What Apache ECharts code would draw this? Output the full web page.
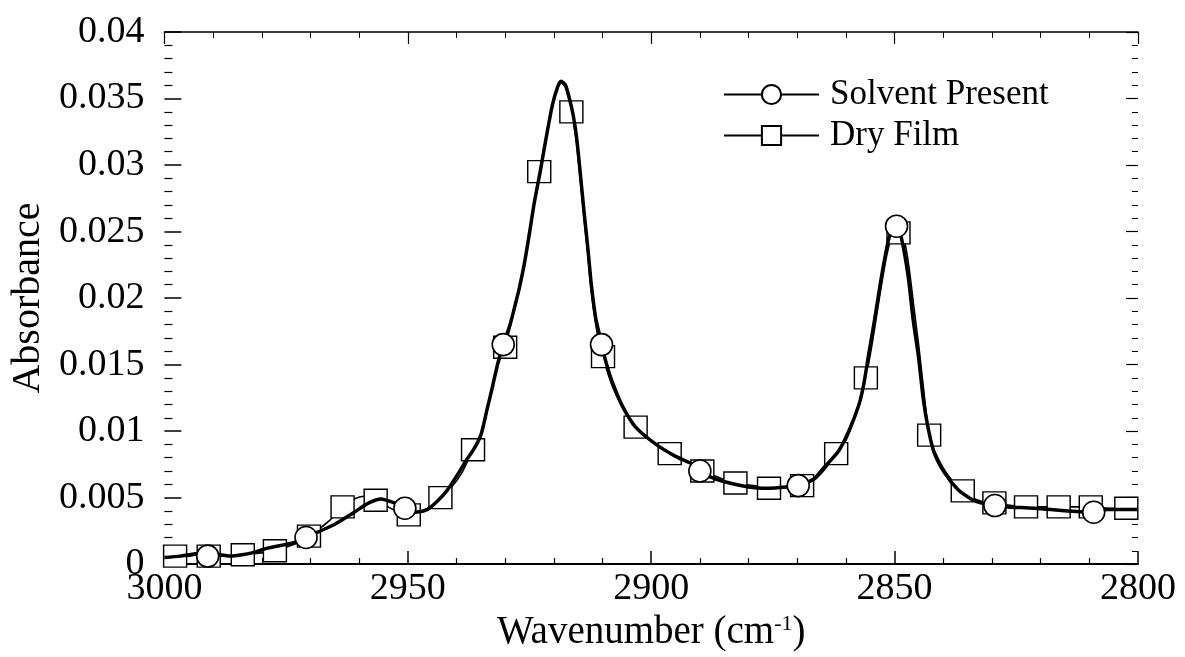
<!DOCTYPE html>
<html>
<head>
<meta charset="utf-8">
<script src="https://cdn.jsdelivr.net/npm/echarts@6/dist/echarts.min.js"></script>
<style>
html,body{margin:0;padding:0;background:#fff;}
#chart{width:1185px;height:657px;}
</style>
</head>
<body>
<div id="chart"></div>
<script>
// ---- Data ----
const seriesNames = ['Solvent Present', 'Dry Film'];

// Solvent Present: line trace (wavenumber, absorbance)
const solventX = [3000, 2996.7, 2995, 2993, 2988.5, 2986.5, 2984, 2981.4, 2978.8, 2974.7, 2972.5,
  2968.5, 2965, 2961, 2958, 2955.5, 2953.5, 2952, 2948.5, 2946, 2944, 2942, 2940, 2938, 2936.5,
  2935, 2933.8, 2932.5, 2931.5, 2929, 2928, 2927, 2926, 2925, 2924, 2922.8, 2921.6, 2920.3,
  2919.2, 2918.5, 2917.6, 2916.8, 2916, 2915.3, 2914.6, 2913.8, 2913, 2912.3, 2911.4, 2910.6,
  2909.3, 2908, 2905.8, 2903.2, 2899, 2895, 2891.5, 2886.8, 2880, 2875.8, 2872, 2866.6, 2864.4,
  2861.5, 2859.4, 2857.4, 2856.4, 2855.4, 2854.1, 2852.7, 2851.3, 2850.4, 2848.6, 2847.2,
  2846.2, 2845.1, 2844.1, 2843.1, 2841.9, 2839.8, 2837, 2834.3, 2832.3, 2826.8, 2821.4,
  2814.5, 2806.3, 2800];
const solventY = [0.0005, 0.0006, 0.0007, 0.0008, 0.0007, 0.0006, 0.0007, 0.0009, 0.0012, 0.0015, 0.0017,
  0.0024, 0.0030, 0.0039, 0.0046, 0.0049, 0.0047, 0.0045, 0.0039, 0.0041, 0.0047, 0.0055, 0.0066, 0.0078, 0.0086,
  0.0097, 0.0115, 0.0135, 0.0151, 0.0180, 0.0194, 0.0209, 0.0227, 0.0249, 0.0272, 0.0295, 0.0320, 0.0345,
  0.0359, 0.0363, 0.0360, 0.0350, 0.0337, 0.0320, 0.0295, 0.0265, 0.0237, 0.0210, 0.0185, 0.0172,
  0.0152, 0.0137, 0.0118, 0.0103, 0.0090, 0.0081, 0.0075, 0.0064, 0.0058, 0.0057, 0.0058, 0.0064, 0.0073,
  0.0085, 0.0100, 0.0119, 0.0134, 0.0156, 0.0184, 0.0216, 0.0243, 0.0253, 0.0245, 0.0216,
  0.0184, 0.0156, 0.0124, 0.0102, 0.0084, 0.0069, 0.0056, 0.0049, 0.0046, 0.0043, 0.0042,
  0.0040, 0.0041, 0.0041];
// Solvent Present: circle markers
const solventMarkX = [2991.1, 2970.9, 2950.6, 2930.4, 2910.2, 2890.0, 2869.8, 2849.6, 2829.4, 2809.1];
const solventMarkY = [0.0006, 0.0020, 0.0042, 0.0165, 0.0165, 0.0070, 0.0059, 0.0254, 0.0044, 0.0039];

// Dry Film: line trace
const dryX = [3000, 2995, 2993, 2988, 2986, 2981, 2979, 2974, 2972, 2968, 2966, 2961, 2959, 2954.5,
  2952.5, 2947.5, 2945.5, 2941, 2939, 2935, 2933.8, 2932.5, 2931.5, 2929, 2928, 2927, 2926, 2925,
  2924, 2921.6, 2920.3, 2919.2, 2918.5, 2917.6, 2916.8, 2916, 2915.3, 2914.6, 2913.8, 2913, 2912.3,
  2911.4, 2910.6, 2909.3, 2908, 2905.8, 2899, 2893, 2886, 2879, 2872, 2866.6, 2864.4, 2860, 2858,
  2857, 2854.5, 2853, 2851.5, 2850.3, 2848, 2847, 2846, 2845, 2844, 2841.9, 2839.8, 2838, 2834,
  2832, 2826, 2820, 2813, 2806, 2800];
const dryY = [0.0007, 0.0006, 0.0007, 0.0006, 0.0006, 0.0008, 0.0009, 0.0014, 0.0017, 0.0027, 0.0033, 0.0049, 0.0051, 0.0044,
  0.0040, 0.0039, 0.0043, 0.0058, 0.0068, 0.0097, 0.0115, 0.0135, 0.0150, 0.0178, 0.0193, 0.0208, 0.0226, 0.0248,
  0.0271, 0.0320, 0.0345, 0.0358, 0.0362, 0.0358, 0.0348, 0.0333, 0.0315, 0.0290, 0.0260, 0.0232, 0.0205,
  0.0180, 0.0165, 0.0148, 0.0134, 0.0117, 0.0090, 0.0078, 0.0065, 0.0059, 0.0057, 0.0063, 0.0071, 0.0093, 0.0112,
  0.0124, 0.0168, 0.0203, 0.0234, 0.0248, 0.0243, 0.0222, 0.0192, 0.0163, 0.0130, 0.0086, 0.0071, 0.0062, 0.0050,
  0.0047, 0.0044, 0.0043, 0.0043, 0.0042, 0.0042];
// Dry Film: square markers
const dryMarkX = [2997.8, 2990.9, 2983.9, 2977.3, 2970.3, 2963.4, 2956.6, 2949.8, 2943.3, 2936.6,
  2930.0, 2923.0, 2916.4, 2909.9, 2903.2, 2896.2, 2889.5, 2882.7, 2875.8, 2869.0,
  2862.0, 2855.9, 2849.2, 2842.9, 2836.0, 2829.5, 2823.0, 2816.3, 2809.7, 2802.4];
const dryMarkY = [0.0006, 0.0006, 0.0007, 0.0010, 0.0021, 0.0043, 0.0048, 0.0037, 0.0050, 0.0086,
  0.0163, 0.0295, 0.0340, 0.0156, 0.0103, 0.0083, 0.0070, 0.0061, 0.0057, 0.0059,
  0.0083, 0.0140, 0.0249, 0.0097, 0.0055, 0.0046, 0.0043, 0.0043, 0.0043, 0.0042];

// Axis ticks
const xMin = 2800, xMax = 3000, xStep = 50;
const xTickLabels = ['2800', '2850', '2900', '2950', '3000'];
const yMin = 0, yMax = 0.04, yStep = 0.005;
const yTickLabels = ['0', '0.005', '0.01', '0.015', '0.02', '0.025', '0.03', '0.035', '0.04'];

// ---- Build merged series data (line points without symbol, marker points with symbol) ----
function build(xs, ys, mx, my, sym) {
  const pts = [];
  xs.forEach((x, i) => pts.push({ value: [x, ys[i]], symbol: 'none' }));
  mx.forEach((x, i) => pts.push({ value: [x, my[i]], symbol: sym }));
  pts.sort((a, b) => b.value[0] - a.value[0]);
  return pts;
}

const serif = '"Liberation Serif", "Times New Roman", serif';
const chart = echarts.init(document.getElementById('chart'));

const option = {
  backgroundColor: '#ffffff',
  animation: false,
  grid: { left: 158, right: 47, top: 32, bottom: 72, containLabel: false },
  legend: {
    orient: 'vertical',
    left: 718,
    top: 72,
    itemWidth: 95,
    itemHeight: 24,
    itemGap: 6,
    data: seriesNames,
    textStyle: { fontFamily: serif, fontSize: 35, color: '#000', padding: [0, 0, 0, 6] }
  },
  xAxis: [{
    type: 'value', min: xMin, max: xMax, interval: xStep, inverse: true,
    name: 'Wavenumber (cm{sup|-1})', nameLocation: 'middle', nameGap: 44,
    nameTextStyle: {
      fontFamily: serif, fontSize: 39, color: '#000',
      rich: { sup: { fontFamily: serif, fontSize: 22, color: '#000', verticalAlign: 'top', padding: [0, 0, 16, 0] } }
    },
    axisLine: { show: true, onZero: false, lineStyle: { color: '#000', width: 2 } },
    axisTick: { show: true, inside: true, length: 13, lineStyle: { color: '#000', width: 1.5 } },
    minorTick: { show: true, splitNumber: 5, length: 6, lineStyle: { color: '#000', width: 1.2 } },
    axisLabel: {
      margin: 6, fontFamily: serif, fontSize: 38, color: '#000',
      formatter: function (v) { return xTickLabels[Math.round((v - xMin) / xStep)]; }
    },
    splitLine: { show: false }
  }, {
    type: 'value', min: xMin, max: xMax, interval: xStep, inverse: true, position: 'top',
    axisLine: { show: true, onZero: false, lineStyle: { color: '#000', width: 1.5 } },
    axisTick: { show: true, inside: true, length: 12, lineStyle: { color: '#000', width: 1.2 } },
    minorTick: { show: true, splitNumber: 5, length: 6, lineStyle: { color: '#000', width: 1 } },
    axisLabel: { show: false },
    splitLine: { show: false }
  }],
  yAxis: [{
    type: 'value', min: yMin, max: yMax, interval: yStep,
    name: 'Absorbance', nameLocation: 'middle', nameGap: 114,
    nameTextStyle: { fontFamily: serif, fontSize: 40, color: '#000' },
    axisLine: { show: false, onZero: false },
    axisTick: { show: true, inside: true, length: 17, lineStyle: { color: '#000', width: 1.5 } },
    minorTick: { show: true, splitNumber: 5, length: 8, lineStyle: { color: '#000', width: 1.2 } },
    axisLabel: {
      margin: 20, fontFamily: serif, fontSize: 38, color: '#000',
      formatter: function (v) { return yTickLabels[Math.round((v - yMin) / yStep)]; }
    },
    splitLine: { show: false }
  }, {
    type: 'value', min: yMin, max: yMax, interval: yStep, position: 'right',
    axisLine: { show: false, onZero: false },
    axisTick: { show: true, inside: true, length: 12, lineStyle: { color: '#000', width: 1.2 } },
    minorTick: { show: true, splitNumber: 5, length: 6, lineStyle: { color: '#000', width: 1 } },
    axisLabel: { show: false },
    splitLine: { show: false }
  }],
  series: [{
    name: seriesNames[1],
    type: 'line',
    z: 2,
    symbol: 'rect',
    symbolSize: [23, 22],
    showAllSymbol: true,
    smooth: 0.25,
    data: build(dryX, dryY, dryMarkX, dryMarkY, 'rect'),
    lineStyle: { color: '#000', width: 1.6 },
    itemStyle: { color: '#fff', borderColor: '#000', borderWidth: 1.4 },
    emphasis: { disabled: true }
  }, {
    name: seriesNames[0],
    type: 'line',
    z: 3,
    symbol: 'circle',
    symbolSize: 22,
    showAllSymbol: true,
    smooth: 0.25,
    data: build(solventX, solventY, solventMarkX, solventMarkY, 'circle'),
    lineStyle: { color: '#000', width: 3.5 },
    itemStyle: { color: '#fff', borderColor: '#000', borderWidth: 1.6 },
    emphasis: { disabled: true }
  }]
};
chart.setOption(option);
</script>
</body>
</html>
